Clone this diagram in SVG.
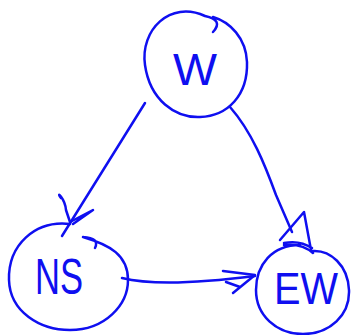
<svg xmlns="http://www.w3.org/2000/svg" width="352" height="335" viewBox="0 0 352 335">
<style>
.s{fill:none;stroke:#0f0ff0;stroke-width:2.5;stroke-linecap:round;stroke-linejoin:round}
.t{font-family:"Liberation Sans",Arial,sans-serif;fill:#0f0ff0;font-weight:normal}
</style>
<rect width="352" height="335" fill="#ffffff"/>
<g id="connectors">
<path class="s" d="M145,103 L62,236"/>
<path class="s" d="M61,198 C55,190 65,198 66,210 L70,222 L93,210 L73,224"/>
<path class="s" d="M230,107 C252,132 265,165 276,195 L292,232"/>
<path class="s" d="M280,240 L304,212 L311,250 M284,243 Q300,240 312,248"/>
<path class="s" d="M122,278 C150,285 200,283 255,276"/>
<path class="s" d="M223,271 L255,275 L233,293 M226,282 L240,287"/>
</g>
<g id="W">
<path class="s" d="M205,16 C170,0 140,30 145,65 C150,100 175,118 200,117 C228,116 248,95 247,62 C246,38 230,22 213,17 M205,16 Q224,20 213,32"/>
<text class="t" x="173" y="85" font-size="44" textLength="44" lengthAdjust="spacingAndGlyphs">W</text>
</g>
<g id="NS">
<path class="s" d="M70,224 C35,220 8,245 9,280 C10,312 40,330 70,330 C105,330 128,305 128,280 C128,255 110,245 83,237 M83,237 Q100,238 95,248"/>
<text class="t" x="35" y="294" font-size="50" textLength="48" lengthAdjust="spacingAndGlyphs">NS</text>
</g>
<g id="EW">
<path class="s" d="M300,245 C272,245 256,265 256,290 C256,315 276,334 303,334 C330,334 350,315 349,290 C348,265 330,250 313,251 M284,245 Q302,243 313,253"/>
<text class="t" x="274" y="304" font-size="44" textLength="64" lengthAdjust="spacingAndGlyphs">EW</text>
</g>
</svg>
